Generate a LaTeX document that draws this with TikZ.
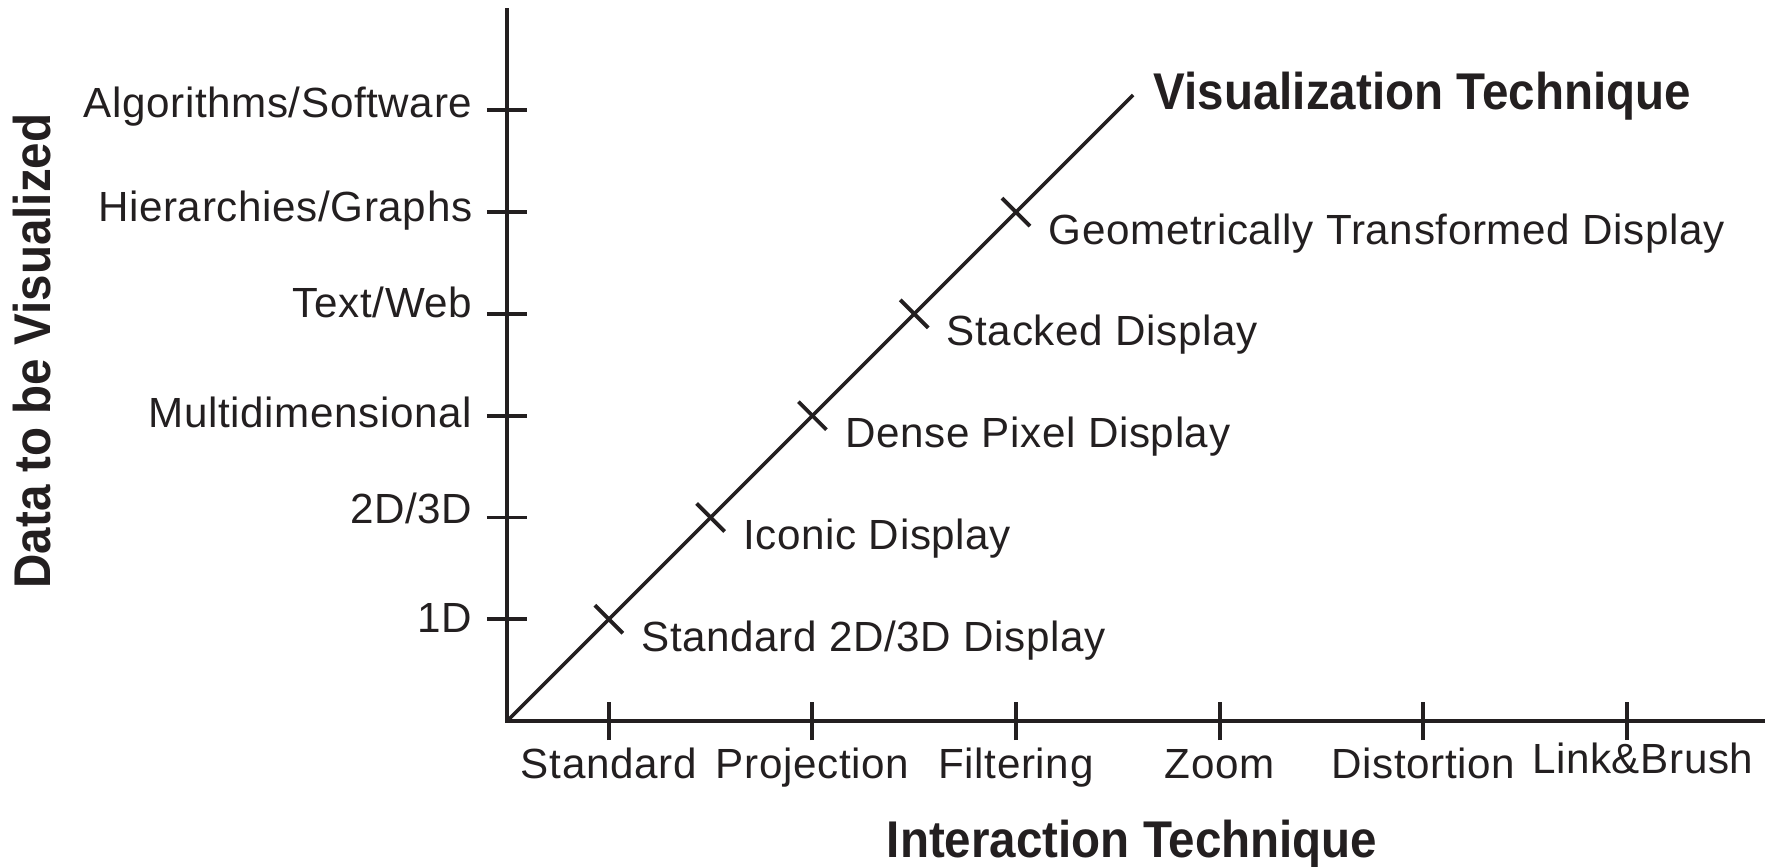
\documentclass[tikz,border=0pt]{standalone}
\usepackage{fontspec}
\setmainfont[LetterSpace=1.5]{Liberation Sans}
\newfontfamily\headfont[FakeStretch=0.92]{Liberation Sans}
\usepackage{tikz}
\usetikzlibrary{positioning, calc}
\definecolor{ink}{RGB}{35,31,32}

\begin{document}
\begin{tikzpicture}[
  x=1.018cm, y=1.018cm,
  axis/.style={draw=ink, line width=1.15pt},
  tickmark/.style={draw=ink, line width=1.1pt},
  cat/.style={font=\fontsize{12}{14}\selectfont, text=ink, inner sep=0pt},
  title/.style={font=\headfont\bfseries\fontsize{14.7}{17}\selectfont, text=ink, inner sep=0pt},
]
\useasboundingbox (-4.98,-1.424) rectangle (12.436,7.083);

% Axes
\coordinate (o) at (0,0);
\coordinate (ytop) at (0,7);
\coordinate (xend) at (12.36,0);
\coordinate (vend) at (6.15,6.15);
\draw[axis] (ytop) -- (o) -- (xend);
\draw[axis, line width=1pt] (o) -- (vend);

% Data on the vertical axis (last value: baseline drop)
\foreach \y/\val/\dy in {1/1D/0.135, 2/{2D/3D}/0.06, 3/Multidimensional/0.115, 4/{Text/Web}/0.035, 5/{Hierarchies/Graphs}/0.095, 6/{Algorithms/Software}/0.075} {
  \coordinate (y\y) at (0,\y);
  \draw[tickmark] ([xshift=-0.2cm]y\y) -- ([xshift=0.2cm]y\y);
  \node[cat, anchor=base east] (ylab\y) at ([xshift=-0.34cm, yshift=-\dy cm]y\y) {\val};
}

% Interaction on the horizontal axis
\foreach \x/\val in {1/Standard, 3/Projection, 5/Filtering, 7/Zoom, 9/Distortion} {
  \coordinate (x\x) at (\x,0);
  \draw[tickmark] ([yshift=-0.19cm]x\x) -- ([yshift=0.19cm]x\x);
  \node[cat, anchor=base] (xlab\x) at ([yshift=-0.57cm]x\x) {\val};
}
\coordinate (x11) at (11,0);
\draw[tickmark] ([yshift=-0.19cm]x11) -- ([yshift=0.19cm]x11);
\node[cat, anchor=base] (xlab11) at ([xshift=0.16cm, yshift=-0.52cm]x11) {Link\&Brush};

% Display types along the diagonal
\foreach \d/\val in {1/{Standard 2D/3D Display}, 2/Iconic Display, 3/Dense Pixel Display, 4/Stacked Display, 5/Geometrically Transformed Display} {
  \coordinate (d\d) at (\d,\d);
  \draw[tickmark] ([xshift=-0.14cm, yshift=0.14cm]d\d) -- ([xshift=0.14cm, yshift=-0.14cm]d\d);
  \node[cat, anchor=base west] (dlab\d) at ([xshift=0.32cm, yshift=-0.32cm]d\d) {\val};
}

% Axis titles
\node[title, anchor=base west] (vis) at ([xshift=0.2cm, yshift=-0.15cm]vend) {Visualization Technique};
\node[title, anchor=base] (inter) at (6.14,-1.345) {Interaction Technique};
\node[title, anchor=base, rotate=90] (data) at ([xshift=-4.56cm, yshift=3.70cm]o) {Data to be Visualized};
\end{tikzpicture}
\end{document}
